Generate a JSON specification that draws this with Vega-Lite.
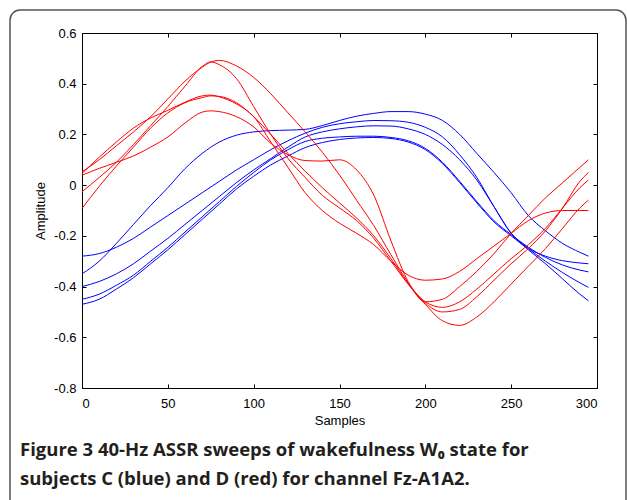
{
  "$schema": "https://vega.github.io/schema/vega-lite/v6.json",
  "width": 616,
  "height": 520,
  "autosize": {"type": "none"},
  "padding": {"left": 10, "top": 10, "right": 1, "bottom": -30},
  "background": "white",
  "view": {"stroke": "#555555", "strokeWidth": 1.5, "cornerRadius": 10, "fill": "white"},
  "config": {
    "locale": {"number": {"decimal": ".", "thousands": ",", "grouping": [3], "currency": ["$", ""], "minus": "-"}},
    "axis": {
      "labelFont": "Liberation Sans", "titleFont": "Liberation Sans",
      "labelFontSize": 13, "titleFontSize": 13, "titleFontWeight": "normal",
      "labelColor": "black", "titleColor": "black",
      "domainColor": "black", "tickColor": "black", "domainWidth": 1, "tickWidth": 1,
      "grid": false, "tickSize": -4
    }
  },
  "title": {
    "text": ["Figure 3 40-Hz ASSR sweeps of wakefulness W₀ state for", "subjects C (blue) and D (red) for channel Fz-A1A2."],
    "orient": "bottom", "anchor": "start", "frame": "group", "dx": 10, "offset": -89,
    "font": "Open Sans", "fontSize": 18.5, "fontWeight": "bold", "lineHeight": 29, "color": "#231f20", "baseline": "top"
  },
  "datasets": {
    "sweeps": [
      {"sweep":"C1","subject":"C","sample":0,"amp":-0.35},{"sweep":"C1","subject":"C","sample":10,"amp":-0.30},{"sweep":"C1","subject":"C","sample":20,"amp":-0.23},{"sweep":"C1","subject":"C","sample":30,"amp":-0.155},{"sweep":"C1","subject":"C","sample":40,"amp":-0.08},{"sweep":"C1","subject":"C","sample":50,"amp":-0.01},{"sweep":"C1","subject":"C","sample":60,"amp":0.065},{"sweep":"C1","subject":"C","sample":70,"amp":0.125},{"sweep":"C1","subject":"C","sample":80,"amp":0.17},{"sweep":"C1","subject":"C","sample":90,"amp":0.197},{"sweep":"C1","subject":"C","sample":100,"amp":0.21},{"sweep":"C1","subject":"C","sample":110,"amp":0.215},{"sweep":"C1","subject":"C","sample":120,"amp":0.217},{"sweep":"C1","subject":"C","sample":130,"amp":0.22},{"sweep":"C1","subject":"C","sample":140,"amp":0.235},{"sweep":"C1","subject":"C","sample":150,"amp":0.255},{"sweep":"C1","subject":"C","sample":160,"amp":0.272},{"sweep":"C1","subject":"C","sample":170,"amp":0.283},{"sweep":"C1","subject":"C","sample":180,"amp":0.29},{"sweep":"C1","subject":"C","sample":190,"amp":0.29},{"sweep":"C1","subject":"C","sample":200,"amp":0.28},{"sweep":"C1","subject":"C","sample":210,"amp":0.255},{"sweep":"C1","subject":"C","sample":220,"amp":0.2},{"sweep":"C1","subject":"C","sample":230,"amp":0.125},{"sweep":"C1","subject":"C","sample":240,"amp":0.05},{"sweep":"C1","subject":"C","sample":250,"amp":-0.03},{"sweep":"C1","subject":"C","sample":260,"amp":-0.12},{"sweep":"C1","subject":"C","sample":270,"amp":-0.18},{"sweep":"C1","subject":"C","sample":280,"amp":-0.23},{"sweep":"C1","subject":"C","sample":290,"amp":-0.265},{"sweep":"C1","subject":"C","sample":295,"amp":-0.28},
      {"sweep":"C2","subject":"C","sample":0,"amp":-0.28},{"sweep":"C2","subject":"C","sample":10,"amp":-0.27},{"sweep":"C2","subject":"C","sample":20,"amp":-0.245},{"sweep":"C2","subject":"C","sample":30,"amp":-0.21},{"sweep":"C2","subject":"C","sample":40,"amp":-0.165},{"sweep":"C2","subject":"C","sample":50,"amp":-0.12},{"sweep":"C2","subject":"C","sample":60,"amp":-0.075},{"sweep":"C2","subject":"C","sample":70,"amp":-0.03},{"sweep":"C2","subject":"C","sample":80,"amp":0.015},{"sweep":"C2","subject":"C","sample":90,"amp":0.06},{"sweep":"C2","subject":"C","sample":100,"amp":0.1},{"sweep":"C2","subject":"C","sample":110,"amp":0.14},{"sweep":"C2","subject":"C","sample":120,"amp":0.175},{"sweep":"C2","subject":"C","sample":130,"amp":0.205},{"sweep":"C2","subject":"C","sample":140,"amp":0.228},{"sweep":"C2","subject":"C","sample":150,"amp":0.242},{"sweep":"C2","subject":"C","sample":160,"amp":0.25},{"sweep":"C2","subject":"C","sample":170,"amp":0.255},{"sweep":"C2","subject":"C","sample":180,"amp":0.254},{"sweep":"C2","subject":"C","sample":190,"amp":0.248},{"sweep":"C2","subject":"C","sample":200,"amp":0.228},{"sweep":"C2","subject":"C","sample":210,"amp":0.19},{"sweep":"C2","subject":"C","sample":220,"amp":0.12},{"sweep":"C2","subject":"C","sample":230,"amp":0.03},{"sweep":"C2","subject":"C","sample":240,"amp":-0.085},{"sweep":"C2","subject":"C","sample":250,"amp":-0.19},{"sweep":"C2","subject":"C","sample":260,"amp":-0.255},{"sweep":"C2","subject":"C","sample":270,"amp":-0.31},{"sweep":"C2","subject":"C","sample":280,"amp":-0.37},{"sweep":"C2","subject":"C","sample":290,"amp":-0.43},{"sweep":"C2","subject":"C","sample":295,"amp":-0.456},
      {"sweep":"C3","subject":"C","sample":0,"amp":-0.40},{"sweep":"C3","subject":"C","sample":10,"amp":-0.38},{"sweep":"C3","subject":"C","sample":20,"amp":-0.35},{"sweep":"C3","subject":"C","sample":30,"amp":-0.31},{"sweep":"C3","subject":"C","sample":40,"amp":-0.26},{"sweep":"C3","subject":"C","sample":50,"amp":-0.21},{"sweep":"C3","subject":"C","sample":60,"amp":-0.155},{"sweep":"C3","subject":"C","sample":70,"amp":-0.10},{"sweep":"C3","subject":"C","sample":80,"amp":-0.045},{"sweep":"C3","subject":"C","sample":90,"amp":0.01},{"sweep":"C3","subject":"C","sample":100,"amp":0.06},{"sweep":"C3","subject":"C","sample":110,"amp":0.105},{"sweep":"C3","subject":"C","sample":120,"amp":0.15},{"sweep":"C3","subject":"C","sample":130,"amp":0.19},{"sweep":"C3","subject":"C","sample":140,"amp":0.21},{"sweep":"C3","subject":"C","sample":150,"amp":0.222},{"sweep":"C3","subject":"C","sample":160,"amp":0.23},{"sweep":"C3","subject":"C","sample":170,"amp":0.234},{"sweep":"C3","subject":"C","sample":180,"amp":0.233},{"sweep":"C3","subject":"C","sample":190,"amp":0.222},{"sweep":"C3","subject":"C","sample":200,"amp":0.2},{"sweep":"C3","subject":"C","sample":210,"amp":0.16},{"sweep":"C3","subject":"C","sample":220,"amp":0.1},{"sweep":"C3","subject":"C","sample":230,"amp":0.02},{"sweep":"C3","subject":"C","sample":240,"amp":-0.085},{"sweep":"C3","subject":"C","sample":250,"amp":-0.19},{"sweep":"C3","subject":"C","sample":260,"amp":-0.25},{"sweep":"C3","subject":"C","sample":270,"amp":-0.30},{"sweep":"C3","subject":"C","sample":280,"amp":-0.345},{"sweep":"C3","subject":"C","sample":290,"amp":-0.385},{"sweep":"C3","subject":"C","sample":295,"amp":-0.403},
      {"sweep":"C4","subject":"C","sample":0,"amp":-0.45},{"sweep":"C4","subject":"C","sample":10,"amp":-0.43},{"sweep":"C4","subject":"C","sample":20,"amp":-0.395},{"sweep":"C4","subject":"C","sample":30,"amp":-0.355},{"sweep":"C4","subject":"C","sample":40,"amp":-0.30},{"sweep":"C4","subject":"C","sample":50,"amp":-0.245},{"sweep":"C4","subject":"C","sample":60,"amp":-0.185},{"sweep":"C4","subject":"C","sample":70,"amp":-0.125},{"sweep":"C4","subject":"C","sample":80,"amp":-0.065},{"sweep":"C4","subject":"C","sample":90,"amp":-0.005},{"sweep":"C4","subject":"C","sample":100,"amp":0.05},{"sweep":"C4","subject":"C","sample":110,"amp":0.1},{"sweep":"C4","subject":"C","sample":120,"amp":0.14},{"sweep":"C4","subject":"C","sample":130,"amp":0.172},{"sweep":"C4","subject":"C","sample":140,"amp":0.185},{"sweep":"C4","subject":"C","sample":150,"amp":0.19},{"sweep":"C4","subject":"C","sample":160,"amp":0.193},{"sweep":"C4","subject":"C","sample":170,"amp":0.193},{"sweep":"C4","subject":"C","sample":180,"amp":0.188},{"sweep":"C4","subject":"C","sample":190,"amp":0.175},{"sweep":"C4","subject":"C","sample":200,"amp":0.145},{"sweep":"C4","subject":"C","sample":210,"amp":0.09},{"sweep":"C4","subject":"C","sample":220,"amp":0.015},{"sweep":"C4","subject":"C","sample":230,"amp":-0.065},{"sweep":"C4","subject":"C","sample":240,"amp":-0.14},{"sweep":"C4","subject":"C","sample":250,"amp":-0.195},{"sweep":"C4","subject":"C","sample":260,"amp":-0.245},{"sweep":"C4","subject":"C","sample":270,"amp":-0.285},{"sweep":"C4","subject":"C","sample":280,"amp":-0.315},{"sweep":"C4","subject":"C","sample":290,"amp":-0.335},{"sweep":"C4","subject":"C","sample":295,"amp":-0.342},
      {"sweep":"C5","subject":"C","sample":0,"amp":-0.47},{"sweep":"C5","subject":"C","sample":10,"amp":-0.45},{"sweep":"C5","subject":"C","sample":20,"amp":-0.41},{"sweep":"C5","subject":"C","sample":30,"amp":-0.365},{"sweep":"C5","subject":"C","sample":40,"amp":-0.31},{"sweep":"C5","subject":"C","sample":50,"amp":-0.255},{"sweep":"C5","subject":"C","sample":60,"amp":-0.195},{"sweep":"C5","subject":"C","sample":70,"amp":-0.135},{"sweep":"C5","subject":"C","sample":80,"amp":-0.075},{"sweep":"C5","subject":"C","sample":90,"amp":-0.015},{"sweep":"C5","subject":"C","sample":100,"amp":0.035},{"sweep":"C5","subject":"C","sample":110,"amp":0.08},{"sweep":"C5","subject":"C","sample":120,"amp":0.115},{"sweep":"C5","subject":"C","sample":130,"amp":0.148},{"sweep":"C5","subject":"C","sample":140,"amp":0.168},{"sweep":"C5","subject":"C","sample":150,"amp":0.18},{"sweep":"C5","subject":"C","sample":160,"amp":0.186},{"sweep":"C5","subject":"C","sample":170,"amp":0.188},{"sweep":"C5","subject":"C","sample":180,"amp":0.184},{"sweep":"C5","subject":"C","sample":190,"amp":0.17},{"sweep":"C5","subject":"C","sample":200,"amp":0.14},{"sweep":"C5","subject":"C","sample":210,"amp":0.085},{"sweep":"C5","subject":"C","sample":220,"amp":0.01},{"sweep":"C5","subject":"C","sample":230,"amp":-0.07},{"sweep":"C5","subject":"C","sample":240,"amp":-0.145},{"sweep":"C5","subject":"C","sample":250,"amp":-0.2},{"sweep":"C5","subject":"C","sample":260,"amp":-0.25},{"sweep":"C5","subject":"C","sample":270,"amp":-0.28},{"sweep":"C5","subject":"C","sample":280,"amp":-0.298},{"sweep":"C5","subject":"C","sample":290,"amp":-0.307},{"sweep":"C5","subject":"C","sample":295,"amp":-0.31},
      {"sweep":"D1","subject":"D","sample":0,"amp":0.052},{"sweep":"D1","subject":"D","sample":10,"amp":0.10},{"sweep":"D1","subject":"D","sample":20,"amp":0.155},{"sweep":"D1","subject":"D","sample":30,"amp":0.21},{"sweep":"D1","subject":"D","sample":40,"amp":0.27},{"sweep":"D1","subject":"D","sample":50,"amp":0.34},{"sweep":"D1","subject":"D","sample":60,"amp":0.41},{"sweep":"D1","subject":"D","sample":70,"amp":0.465},{"sweep":"D1","subject":"D","sample":75,"amp":0.485},{"sweep":"D1","subject":"D","sample":80,"amp":0.492},{"sweep":"D1","subject":"D","sample":90,"amp":0.47},{"sweep":"D1","subject":"D","sample":100,"amp":0.425},{"sweep":"D1","subject":"D","sample":110,"amp":0.36},{"sweep":"D1","subject":"D","sample":120,"amp":0.285},{"sweep":"D1","subject":"D","sample":130,"amp":0.21},{"sweep":"D1","subject":"D","sample":140,"amp":0.13},{"sweep":"D1","subject":"D","sample":150,"amp":0.04},{"sweep":"D1","subject":"D","sample":160,"amp":-0.06},{"sweep":"D1","subject":"D","sample":170,"amp":-0.16},{"sweep":"D1","subject":"D","sample":180,"amp":-0.275},{"sweep":"D1","subject":"D","sample":190,"amp":-0.385},{"sweep":"D1","subject":"D","sample":200,"amp":-0.465},{"sweep":"D1","subject":"D","sample":210,"amp":-0.5},{"sweep":"D1","subject":"D","sample":220,"amp":-0.49},{"sweep":"D1","subject":"D","sample":230,"amp":-0.44},{"sweep":"D1","subject":"D","sample":240,"amp":-0.375},{"sweep":"D1","subject":"D","sample":250,"amp":-0.31},{"sweep":"D1","subject":"D","sample":260,"amp":-0.25},{"sweep":"D1","subject":"D","sample":270,"amp":-0.18},{"sweep":"D1","subject":"D","sample":280,"amp":-0.09},{"sweep":"D1","subject":"D","sample":290,"amp":0.015},{"sweep":"D1","subject":"D","sample":295,"amp":0.05},
      {"sweep":"D2","subject":"D","sample":0,"amp":0.046},{"sweep":"D2","subject":"D","sample":10,"amp":0.11},{"sweep":"D2","subject":"D","sample":20,"amp":0.17},{"sweep":"D2","subject":"D","sample":30,"amp":0.225},{"sweep":"D2","subject":"D","sample":40,"amp":0.265},{"sweep":"D2","subject":"D","sample":50,"amp":0.295},{"sweep":"D2","subject":"D","sample":60,"amp":0.327},{"sweep":"D2","subject":"D","sample":70,"amp":0.352},{"sweep":"D2","subject":"D","sample":75,"amp":0.355},{"sweep":"D2","subject":"D","sample":80,"amp":0.348},{"sweep":"D2","subject":"D","sample":90,"amp":0.32},{"sweep":"D2","subject":"D","sample":100,"amp":0.27},{"sweep":"D2","subject":"D","sample":110,"amp":0.17},{"sweep":"D2","subject":"D","sample":120,"amp":0.07},{"sweep":"D2","subject":"D","sample":130,"amp":-0.03},{"sweep":"D2","subject":"D","sample":140,"amp":-0.1},{"sweep":"D2","subject":"D","sample":150,"amp":-0.15},{"sweep":"D2","subject":"D","sample":160,"amp":-0.19},{"sweep":"D2","subject":"D","sample":170,"amp":-0.235},{"sweep":"D2","subject":"D","sample":180,"amp":-0.3},{"sweep":"D2","subject":"D","sample":190,"amp":-0.355},{"sweep":"D2","subject":"D","sample":200,"amp":-0.375},{"sweep":"D2","subject":"D","sample":210,"amp":-0.37},{"sweep":"D2","subject":"D","sample":220,"amp":-0.34},{"sweep":"D2","subject":"D","sample":230,"amp":-0.29},{"sweep":"D2","subject":"D","sample":240,"amp":-0.24},{"sweep":"D2","subject":"D","sample":250,"amp":-0.19},{"sweep":"D2","subject":"D","sample":260,"amp":-0.14},{"sweep":"D2","subject":"D","sample":270,"amp":-0.11},{"sweep":"D2","subject":"D","sample":280,"amp":-0.1},{"sweep":"D2","subject":"D","sample":290,"amp":-0.1},{"sweep":"D2","subject":"D","sample":295,"amp":-0.1},
      {"sweep":"D3","subject":"D","sample":0,"amp":0.039},{"sweep":"D3","subject":"D","sample":10,"amp":0.066},{"sweep":"D3","subject":"D","sample":20,"amp":0.09},{"sweep":"D3","subject":"D","sample":30,"amp":0.115},{"sweep":"D3","subject":"D","sample":40,"amp":0.15},{"sweep":"D3","subject":"D","sample":50,"amp":0.19},{"sweep":"D3","subject":"D","sample":60,"amp":0.245},{"sweep":"D3","subject":"D","sample":70,"amp":0.288},{"sweep":"D3","subject":"D","sample":75,"amp":0.293},{"sweep":"D3","subject":"D","sample":80,"amp":0.29},{"sweep":"D3","subject":"D","sample":90,"amp":0.27},{"sweep":"D3","subject":"D","sample":100,"amp":0.23},{"sweep":"D3","subject":"D","sample":110,"amp":0.165},{"sweep":"D3","subject":"D","sample":120,"amp":0.12},{"sweep":"D3","subject":"D","sample":130,"amp":0.097},{"sweep":"D3","subject":"D","sample":140,"amp":0.095},{"sweep":"D3","subject":"D","sample":150,"amp":0.1},{"sweep":"D3","subject":"D","sample":160,"amp":0.06},{"sweep":"D3","subject":"D","sample":170,"amp":-0.04},{"sweep":"D3","subject":"D","sample":180,"amp":-0.22},{"sweep":"D3","subject":"D","sample":190,"amp":-0.38},{"sweep":"D3","subject":"D","sample":200,"amp":-0.46},{"sweep":"D3","subject":"D","sample":210,"amp":-0.45},{"sweep":"D3","subject":"D","sample":220,"amp":-0.4},{"sweep":"D3","subject":"D","sample":230,"amp":-0.34},{"sweep":"D3","subject":"D","sample":240,"amp":-0.27},{"sweep":"D3","subject":"D","sample":250,"amp":-0.19},{"sweep":"D3","subject":"D","sample":260,"amp":-0.12},{"sweep":"D3","subject":"D","sample":270,"amp":-0.05},{"sweep":"D3","subject":"D","sample":280,"amp":0.01},{"sweep":"D3","subject":"D","sample":290,"amp":0.07},{"sweep":"D3","subject":"D","sample":295,"amp":0.1},
      {"sweep":"D4","subject":"D","sample":0,"amp":-0.026},{"sweep":"D4","subject":"D","sample":10,"amp":0.03},{"sweep":"D4","subject":"D","sample":20,"amp":0.09},{"sweep":"D4","subject":"D","sample":30,"amp":0.16},{"sweep":"D4","subject":"D","sample":40,"amp":0.235},{"sweep":"D4","subject":"D","sample":50,"amp":0.31},{"sweep":"D4","subject":"D","sample":60,"amp":0.39},{"sweep":"D4","subject":"D","sample":70,"amp":0.468},{"sweep":"D4","subject":"D","sample":75,"amp":0.486},{"sweep":"D4","subject":"D","sample":80,"amp":0.475},{"sweep":"D4","subject":"D","sample":90,"amp":0.42},{"sweep":"D4","subject":"D","sample":100,"amp":0.31},{"sweep":"D4","subject":"D","sample":110,"amp":0.2},{"sweep":"D4","subject":"D","sample":120,"amp":0.105},{"sweep":"D4","subject":"D","sample":130,"amp":0.03},{"sweep":"D4","subject":"D","sample":140,"amp":-0.04},{"sweep":"D4","subject":"D","sample":150,"amp":-0.09},{"sweep":"D4","subject":"D","sample":160,"amp":-0.14},{"sweep":"D4","subject":"D","sample":170,"amp":-0.21},{"sweep":"D4","subject":"D","sample":180,"amp":-0.3},{"sweep":"D4","subject":"D","sample":190,"amp":-0.39},{"sweep":"D4","subject":"D","sample":200,"amp":-0.46},{"sweep":"D4","subject":"D","sample":210,"amp":-0.482},{"sweep":"D4","subject":"D","sample":220,"amp":-0.46},{"sweep":"D4","subject":"D","sample":230,"amp":-0.41},{"sweep":"D4","subject":"D","sample":240,"amp":-0.35},{"sweep":"D4","subject":"D","sample":250,"amp":-0.29},{"sweep":"D4","subject":"D","sample":260,"amp":-0.235},{"sweep":"D4","subject":"D","sample":270,"amp":-0.17},{"sweep":"D4","subject":"D","sample":280,"amp":-0.09},{"sweep":"D4","subject":"D","sample":290,"amp":-0.01},{"sweep":"D4","subject":"D","sample":295,"amp":0.02},
      {"sweep":"D5","subject":"D","sample":0,"amp":-0.092},{"sweep":"D5","subject":"D","sample":10,"amp":-0.005},{"sweep":"D5","subject":"D","sample":20,"amp":0.075},{"sweep":"D5","subject":"D","sample":30,"amp":0.15},{"sweep":"D5","subject":"D","sample":40,"amp":0.225},{"sweep":"D5","subject":"D","sample":50,"amp":0.285},{"sweep":"D5","subject":"D","sample":60,"amp":0.325},{"sweep":"D5","subject":"D","sample":70,"amp":0.345},{"sweep":"D5","subject":"D","sample":75,"amp":0.352},{"sweep":"D5","subject":"D","sample":80,"amp":0.35},{"sweep":"D5","subject":"D","sample":90,"amp":0.325},{"sweep":"D5","subject":"D","sample":100,"amp":0.27},{"sweep":"D5","subject":"D","sample":110,"amp":0.2},{"sweep":"D5","subject":"D","sample":120,"amp":0.125},{"sweep":"D5","subject":"D","sample":130,"amp":0.055},{"sweep":"D5","subject":"D","sample":140,"amp":-0.01},{"sweep":"D5","subject":"D","sample":150,"amp":-0.07},{"sweep":"D5","subject":"D","sample":160,"amp":-0.13},{"sweep":"D5","subject":"D","sample":170,"amp":-0.2},{"sweep":"D5","subject":"D","sample":180,"amp":-0.29},{"sweep":"D5","subject":"D","sample":190,"amp":-0.39},{"sweep":"D5","subject":"D","sample":200,"amp":-0.47},{"sweep":"D5","subject":"D","sample":210,"amp":-0.535},{"sweep":"D5","subject":"D","sample":220,"amp":-0.553},{"sweep":"D5","subject":"D","sample":230,"amp":-0.52},{"sweep":"D5","subject":"D","sample":240,"amp":-0.46},{"sweep":"D5","subject":"D","sample":250,"amp":-0.39},{"sweep":"D5","subject":"D","sample":260,"amp":-0.32},{"sweep":"D5","subject":"D","sample":270,"amp":-0.25},{"sweep":"D5","subject":"D","sample":280,"amp":-0.17},{"sweep":"D5","subject":"D","sample":290,"amp":-0.09},{"sweep":"D5","subject":"D","sample":295,"amp":-0.059}
    ]
  },
  "data": {"name": "sweeps"},
  "resolve": {"axis": {"x": "independent", "y": "independent"}},
  "layer": [
    {
      "mark": {"type": "line", "strokeWidth": 1, "interpolate": "monotone"},
      "encoding": {
        "x": {"field": "sample", "type": "quantitative", "scale": {"domain": [0, 300], "nice": false, "range": [72, 587]},
              "axis": {"orient": "bottom", "offset": -142, "values": [0, 50, 100, 150, 200, 250, 300], "title": "Samples", "labelPadding": 13, "titlePadding": 4}},
        "y": {"field": "amp", "type": "quantitative", "scale": {"domain": [-0.8, 0.6], "nice": false, "zero": false, "range": [378, 23]},
              "axis": {"orient": "left", "offset": -72, "values": [-0.8, -0.6, -0.4, -0.2, 0, 0.2, 0.4, 0.6], "format": ".1~f", "title": "Amplitude", "labelPadding": 10, "titlePadding": 6}},
        "color": {"field": "subject", "type": "nominal", "scale": {"domain": ["C", "D"], "range": ["#0000ff", "#ff0000"]}, "legend": null},
        "detail": {"field": "sweep", "type": "nominal"}
      }
    },
    {
      "mark": {"type": "line", "opacity": 0},
      "encoding": {
        "x": {"field": "sample", "type": "quantitative", "scale": {"domain": [0, 300], "nice": false, "range": [72, 587]},
              "axis": {"orient": "top", "offset": -23, "values": [0, 50, 100, 150, 200, 250, 300], "labels": false, "title": null}},
        "y": {"field": "amp", "type": "quantitative", "scale": {"domain": [-0.8, 0.6], "nice": false, "zero": false, "range": [378, 23]},
              "axis": {"orient": "right", "offset": -29, "values": [-0.8, -0.6, -0.4, -0.2, 0, 0.2, 0.4, 0.6], "labels": false, "title": null}},
        "detail": {"field": "sweep", "type": "nominal"}
      }
    }
  ]
}
